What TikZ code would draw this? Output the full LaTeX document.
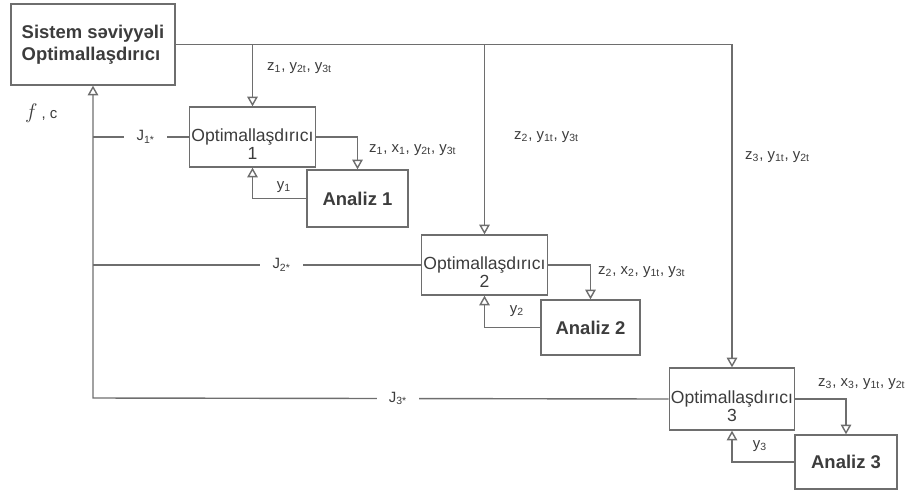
\documentclass[tikz,border=0pt]{standalone}
\usepackage{fontspec}
\setmainfont{Liberation Sans}
\usetikzlibrary{arrows.meta}
\definecolor{linegray}{HTML}{6E6E6E}
\definecolor{txtgray}{HTML}{3C3C3C}
\newcommand{\sbs}[1]{\textsubscript{#1}}

\begin{document}
\begin{tikzpicture}[x=0.02cm,y=-0.02cm,
  box/.style={draw=linegray,line width=0.8pt,text=txtgray,align=center,inner sep=1pt},
  opt/.style={box,minimum width=2.5cm,minimum height=1.2cm,text height=26pt,font=\fontsize{10}{10.4}\selectfont},
  ana/.style={box,minimum height=1.1cm,font=\fontsize{10.5}{12}\selectfont\bfseries},
  flow/.style={draw=linegray,line width=0.8pt},
  arr/.style={flow,-{Triangle[open,width=6pt,length=5.5pt]}},
  lbl/.style={text=txtgray,font=\fontsize{8.5}{10}\selectfont,inner sep=1pt},
  jlbl/.style={lbl,fill=white,inner xsep=7pt}]
  \useasboundingbox (0,0) rectangle (908,490);
  % boxes
  \node[box,minimum width=3.28cm,minimum height=1.62cm,align=left,
        font=\fontsize{10.5}{12.5}\selectfont\bfseries] (sys) at (93,44.5) {Sistem səviyyəli\\Optimallaşdırıcı};
  \node[opt] (opt1) at (252.5,137) {Optimallaşdırıcı\\1};
  \node[opt] (opt2) at (484.5,265) {Optimallaşdırıcı\\2};
  \node[opt,minimum height=1.24cm] (opt3) at (732,399) {Optimallaşdırıcı\\3};
  \node[ana,minimum width=2.02cm,minimum height=1.14cm] (an1) at (357.5,198.5) {Analiz 1};
  \node[ana,minimum width=1.98cm] (an2) at (590.5,327.5) {Analiz 2};
  \node[ana,minimum width=2.04cm,minimum height=1.08cm] (an3) at (846,462) {Analiz 3};
  \coordinate (fb) at (93,398);
  % top-down
  \draw[arr] (sys.east) -- (opt3.north |- sys.east) -- (opt3.north);
  \draw[arr] (opt1.north |- sys.east) -- (opt1.north);
  \draw[arr] (opt2.north |- sys.east) -- (opt2.north);
  % to analysis and back
  \draw[arr] (opt1.east) -| (an1.north);
  \draw[arr] (opt2.east) -| (an2.north);
  \draw[arr] (opt3.east) -| (an3.north);
  \draw[arr] (an1.west) -| (opt1.south);
  \draw[arr] (an2.west) -| (opt2.south);
  \draw[arr] (an3.west) -| (opt3.south);
  % feedback
  \draw[arr] (opt3.west) -- node[jlbl,pos=0.47] (j3) {J\sbs{3*}} (fb) -- (sys.south);
  \draw[flow] (opt1.west) -- node[jlbl,pos=0.45] (j1) {J\sbs{1*}} (fb |- opt1.west);
  \draw[flow] (opt2.west) -- node[jlbl,pos=0.425] (j2) {J\sbs{2*}} (fb |- opt2.west);
  % labels
  \node[lbl,anchor=west] (l1) at (265,68)  {z\sbs{1}, y\sbs{2t}, y\sbs{3t}};
  \node[lbl,anchor=west] (l2) at (512,137) {z\sbs{2}, y\sbs{1t}, y\sbs{3t}};
  \node[lbl,anchor=west] (l3) at (743,157) {z\sbs{3}, y\sbs{1t}, y\sbs{2t}};
  \node[lbl,anchor=west] (m1) at (367,150) {z\sbs{1}, x\sbs{1}, y\sbs{2t}, y\sbs{3t}};
  \node[lbl,anchor=west] (m2) at (596,272) {z\sbs{2}, x\sbs{2}, y\sbs{1t}, y\sbs{3t}};
  \node[lbl,anchor=west] (m3) at (816,384) {z\sbs{3}, x\sbs{3}, y\sbs{1t}, y\sbs{2t}};
  \node[lbl] (y1) at (284,187) {y\sbs{1}};
  \node[lbl] (y2) at (517,311) {y\sbs{2}};
  \node[lbl] (y3) at (760,446) {y\sbs{3}};
  \node[lbl,anchor=west] (fc) at (23,113) {\large$f$\normalsize\fontsize{8.5}{10}\selectfont{} , c};
\end{tikzpicture}
\end{document}
